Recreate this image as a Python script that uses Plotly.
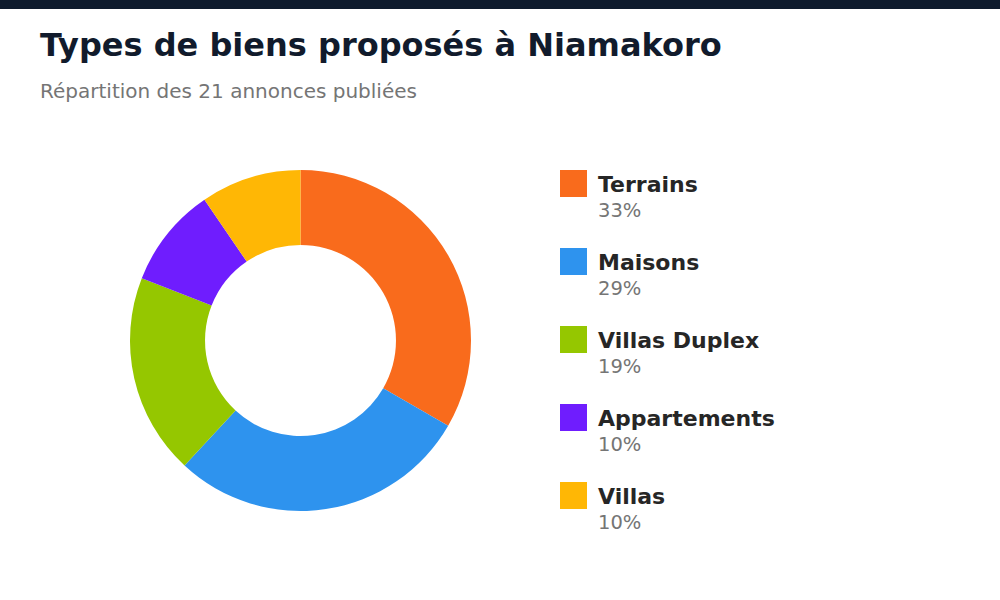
import plotly.graph_objects as go

categories = ["Terrains", "Maisons", "Villas Duplex", "Appartements", "Villas"]
counts = [7, 6, 4, 2, 2]
colors = ["#F96B1C", "#2E93EE", "#95C700", "#6F1DFE", "#FFB705"]

W, H = 1000, 600
total = sum(counts)

fig = go.Figure()
fig.add_trace(go.Pie(
    labels=categories, values=counts, hole=0.56, sort=False,
    direction="clockwise", rotation=0,
    marker=dict(colors=colors, line=dict(width=0)),
    textinfo="none", hoverinfo="label+value+percent", showlegend=False,
    domain=dict(x=[130 / W, 471 / W], y=[(H - 511) / H, (H - 170) / H]),
))

# top bar
fig.add_shape(type="rect", xref="paper", yref="paper", x0=0, x1=1,
              y0=1 - 9 / H, y1=1, fillcolor="#0F1B2D", line=dict(width=0), layer="above")

FONT = "DejaVu Sans"
fig.add_annotation(xref="paper", yref="paper", x=38 / W, y=1 - 24 / H, xanchor="left", yanchor="top",
                   text="<b>Types de biens proposés à Niamakoro</b>", showarrow=False,
                   font=dict(family=FONT, size=32, color="#111B2C"))
fig.add_annotation(xref="paper", yref="paper", x=38 / W, y=1 - 77 / H, xanchor="left", yanchor="top",
                   text=f"Répartition des {total} annonces publiées", showarrow=False,
                   font=dict(family=FONT, size=20, color="#757575"))

for i, (cat, val, col) in enumerate(zip(categories, counts, colors)):
    top = 170 + i * 78
    fig.add_shape(type="rect", xref="paper", yref="paper",
                  x0=560 / W, x1=587 / W, y0=1 - (top + 27) / H, y1=1 - top / H,
                  fillcolor=col, line=dict(width=0))
    pct = round(val / total * 100)
    fig.add_annotation(xref="paper", yref="paper", x=596 / W, y=1 - (top + 0) / H,
                       xanchor="left", yanchor="top", text=f"<b>{cat}</b>", showarrow=False,
                       font=dict(family=FONT, size=22, color="#262626"))
    fig.add_annotation(xref="paper", yref="paper", x=596 / W, y=1 - (top + 27) / H,
                       xanchor="left", yanchor="top", text=f"{pct}%", showarrow=False,
                       font=dict(family=FONT, size=19.5, color="#757575"))

fig.update_layout(width=W, height=H, margin=dict(l=0, r=0, t=0, b=0),
                  paper_bgcolor="white", plot_bgcolor="white")
fig.write_html("out.html")
